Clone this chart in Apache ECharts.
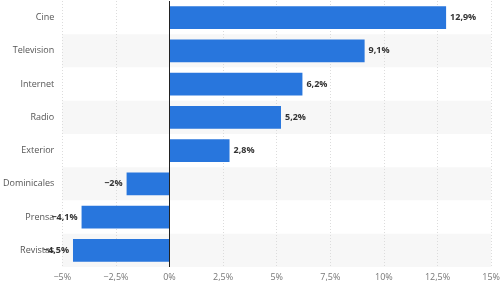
<!DOCTYPE html>
<html><head><meta charset="utf-8">
<script src="https://cdn.jsdelivr.net/npm/echarts@6/dist/echarts.min.js"></script>
<style>html,body{margin:0;padding:0;background:#fff}#c{width:503px;height:286px}</style>
</head><body><div id="c"></div>
<script>
const categories = ["Cine","Television","Internet","Radio","Exterior","Dominicales","Prensa","Revistas"];
const values = [12.9, 9.1, 6.2, 5.2, 2.8, -2, -4.1, -4.5];
const xTicks = {min: -5, max: 15, interval: 2.5};

function fmt(v){
  let s = String(Math.abs(v)).replace('.', ',');
  return (v < 0 ? '\u2212' : '') + s + '%';
}
const chart = echarts.init(document.getElementById('c'), null, {renderer:'canvas'});
chart.setOption({
  animation:false,
  grid:{left:58, right:8, top:1, bottom:19, containLabel:false},
  xAxis:{type:'value', min:xTicks.min, max:xTicks.max, interval:xTicks.interval,
    axisLine:{show:false}, axisTick:{show:false},
    axisLabel:{color:'#777', fontSize:9, fontFamily:'Open Sans, sans-serif', formatter:v=>fmt(v), margin:6},
    splitLine:{show:true, lineStyle:{color:'#dcdcdc', type:[1,2], width:1}}
  },
  yAxis:{type:'category', data:categories, inverse:true,
    axisLine:{show:false}, axisTick:{show:false},
    axisLabel:{color:'#555', fontSize:9, fontFamily:'Open Sans, sans-serif', margin:8},
    splitArea:{show:true, areaStyle:{color:['#ffffff','#f7f7f7']}}
  },
  series:[{
    type:'bar', data:values.map(v=>({value:v, label:{position: v<0?'left':'right'}})),
    barCategoryGap:'32%',
    itemStyle:{color:'#2876dd'},
    label:{show:true, formatter:p=>fmt(p.value), color:'#333', fontSize:9, fontWeight:'bold', fontFamily:'Open Sans, sans-serif', distance:4},
    markLine:{silent:true, symbol:'none', label:{show:false}, lineStyle:{color:'#222', width:1, type:'solid'}, data:[{xAxis:0}]}
  }]
});
</script></body></html>
